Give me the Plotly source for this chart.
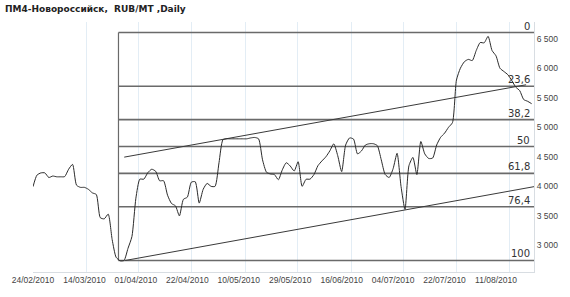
import plotly.graph_objects as go

# ---- data ----
title_text = "ПМ4-Новороссийск,  RUB/MT ,Daily"

# daily closes, one per trading day starting 24/02/2010
prices = [
    3995, 4190, 4228, 4228, 4150, 4175, 4162, 4162, 4165, 4290,
    4372, 4020, 3983, 3983, 3950, 3890, 3862, 3470, 3450, 3530,
    3100, 2800, 2740, 2745, 2950, 3150, 3800, 4122, 4122, 4230,
    4290, 4255, 4095, 4095, 3850, 3710, 3670, 3500, 3780, 3817,
    4070, 4078, 3717, 3950, 4050, 4000, 4000, 4400, 4790, 4805,
    4805, 4805, 4805, 4805, 4805, 4820, 4828, 4805, 4450, 4240,
    4210, 4200, 4112, 4280, 4400, 4345, 4260, 4417, 4000, 4120,
    4122, 4200, 4350, 4430, 4500, 4600, 4720, 4520, 4250, 4700,
    4820, 4800, 4550, 4600, 4700, 4722, 4722, 4690, 4450, 4200,
    4150, 4300, 4560, 4000, 3610, 4350, 4490, 4200, 4760, 4550,
    4472, 4480, 4700, 4830, 4900, 5000, 5080, 5800, 6000, 6110,
    6150, 6130, 6300, 6435, 6430, 6540, 6300, 6210, 6000, 5945,
    5890, 5790, 5680, 5620, 5470, 5440, 5400,
]
days = list(range(len(prices)))

tick_days = [0, 13, 26, 39, 52, 65, 78, 91, 104, 117]
tick_labels = ["24/02/2010", "14/03/2010", "01/04/2010", "22/04/2010", "10/05/2010",
               "29/05/2010", "16/06/2010", "04/07/2010", "22/07/2010", "11/08/2010"]
grid_days = [0.125, 13.4, 26.6, 40.1, 53.6, 66.9, 80.4, 93.6, 107.1, 120.4]

y_ticks = [3000, 3500, 4000, 4500, 5000, 5500, 6000, 6500]
y_labels = ["3 000", "3 500", "4 000", "4 500", "5 000", "5 500", "6 000", "6 500"]

# Fibonacci retracement
fib_high = 6605
fib_low = 2745
fib_pcts = [0, 23.6, 38.2, 50, 61.8, 76.4, 100]
fib_labels = ["0", "23,6", "38,2", "50", "61,8", "76,4", "100"]
fib_start_day = 21.6
fib_end_day = 126.6

# trend lines (day, value)
upper_trend_days = [23.05, 124.6]
upper_trend_vals = [4495, 5720]
lower_trend_days = [23.3, 126.6]
lower_trend_vals = [2745, 3995]

x_range = [0, 126.6]
y_range = [2550, 6783]

# ---- figure ----
fig = go.Figure()

fib_vals = [fib_high - p / 100 * (fib_high - fib_low) for p in fib_pcts]
for v in fib_vals:
    fig.add_trace(go.Scatter(x=[fib_start_day, fib_end_day], y=[v, v], mode="lines",
                             line=dict(color="#6a6a6a", width=1.6), hoverinfo="skip",
                             showlegend=False))
fig.add_trace(go.Scatter(x=[fib_start_day, fib_start_day], y=[fib_high, fib_low], mode="lines",
                         line=dict(color="#6a6a6a", width=1.2), hoverinfo="skip",
                         showlegend=False))

fig.add_trace(go.Scatter(x=upper_trend_days, y=upper_trend_vals, mode="lines",
                         line=dict(color="#3a3a3a", width=1), showlegend=False))
fig.add_trace(go.Scatter(x=lower_trend_days, y=lower_trend_vals, mode="lines",
                         line=dict(color="#3a3a3a", width=1), showlegend=False))

fig.add_trace(go.Scatter(x=days, y=prices, mode="lines",
                         line=dict(color="#2b2b2b", width=1, shape="spline", smoothing=0.6),
                         showlegend=False))

for v, lab in zip(fib_vals, fib_labels):
    fig.add_annotation(x=fib_end_day - 0.4, y=v, text=lab, showarrow=False,
                       xanchor="right", yanchor="bottom", yshift=-1,
                       font=dict(family="DejaVu Sans", size=10, color="#333333"))

fig.update_layout(
    width=570, height=297,
    margin=dict(l=28, r=35, t=22, b=21),
    paper_bgcolor="white", plot_bgcolor="white",
    title=dict(text=title_text, xref="container", yref="container",
               x=5 / 570, xanchor="left", y=1 - 9 / 297, yanchor="middle",
               font=dict(family="DejaVu Sans", size=9, color="#222222", weight="bold")),
    xaxis=dict(range=x_range, tickvals=tick_days, ticktext=tick_labels,
               showgrid=False, zeroline=False, ticks="",
               showline=True, linecolor="#d8dde2", linewidth=1,
               tickfont=dict(family="Liberation Sans", size=8.5, color="#444444"),
               minor=dict(tickvals=grid_days, showgrid=True, gridcolor="#e3edf5",
                          gridwidth=1, ticks="")),
    yaxis=dict(range=y_range, side="right", tickvals=y_ticks, ticktext=y_labels,
               showgrid=False, zeroline=False, ticks="",
               showline=True, linecolor="#d8dde2", linewidth=1,
               tickfont=dict(family="Liberation Sans", size=8.5, color="#444444")),
)

fig.write_html("out.html")
